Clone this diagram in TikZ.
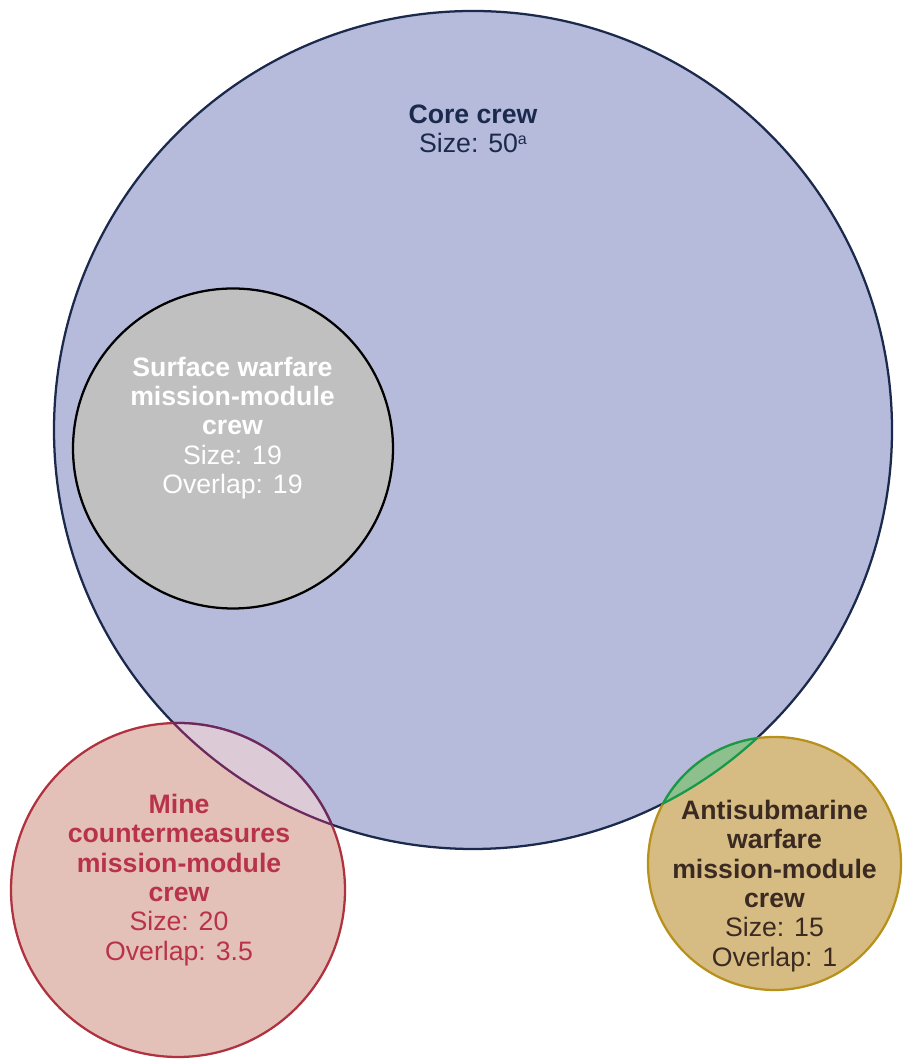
\documentclass[tikz,border=0pt]{standalone}
\usepackage[dvipsnames,svgnames]{xcolor}
\usepackage{tkz-euclide}
\usepackage{fontspec}
\setmainfont{Liberation Sans}
\definecolor{corefill}{HTML}{B6BBDB}
\definecolor{coreline}{HTML}{1B2A4C}
\definecolor{surffill}{HTML}{C0C0C0}
\definecolor{minefill}{HTML}{E3C1B8}
\definecolor{mineline}{HTML}{B0323F}
\definecolor{minetext}{HTML}{B8334A}
\definecolor{minelens}{HTML}{DCCAD7}
\definecolor{minelensline}{HTML}{6A2A5E}
\definecolor{asfill}{HTML}{D6BC82}
\definecolor{asline}{HTML}{B8911C}
\definecolor{astext}{HTML}{3B2A22}
\definecolor{aslens}{HTML}{8EC08E}
\definecolor{aslensline}{HTML}{17994A}

\begin{document}
\begin{tikzpicture}[x=0.75pt,y=0.75pt,
  crewtext/.style={align=center,font=\fontsize{20}{22}\selectfont}]
  \useasboundingbox (0,0) rectangle (904,1059);
  \tkzDefPoints{473/629/C,892/629/c,233/610.5/S,393/610.5/s,
    178/169/M,345/169/m,774.5/195.5/A,901/195.5/a}
  % the four crews
  \tkzFillCircle[color=corefill](C,c)
  \tkzDrawCircle[color=coreline,line width=1.7pt](C,c)
  \tkzFillCircle[color=surffill](S,s)
  \tkzDrawCircle[color=black,line width=1.7pt](S,s)
  \tkzFillCircle[color=minefill](M,m)
  \tkzDrawCircle[color=mineline,line width=1.7pt](M,m)
  \tkzFillCircle[color=asfill](A,a)
  \tkzDrawCircle[color=asline,line width=1.7pt](A,a)
  % overlaps with the core crew
  \begin{scope}
    \tkzClipCircle(C,c)
    \tkzFillCircle[color=minelens](M,m)
    \tkzDrawCircle[color=minelensline,line width=1.7pt](M,m)
    \tkzFillCircle[color=aslens](A,a)
    \tkzDrawCircle[color=aslensline,line width=1.7pt](A,a)
  \end{scope}
  \begin{scope}
    \tkzClipCircle(M,m)
    \tkzDrawCircle[color=minelensline,line width=1.7pt](C,c)
  \end{scope}
  \begin{scope}
    \tkzClipCircle(A,a)
    \tkzDrawCircle[color=aslensline,line width=1.7pt](C,c)
  \end{scope}
  % labels
  \node[crewtext,text=coreline] (core) at (473,930)
    {\textbf{Core crew}\\Size: 50\raisebox{0.3em}{\fontsize{12}{12}\selectfont a}};
  \node[crewtext,text=white] (surface) at (232.5,631)
    {\textbf{Surface warfare}\\\textbf{mission-module}\\\textbf{crew}\\Size: 19\\Overlap: 19};
  \node[crewtext,text=minetext] (mine) at (179,179)
    {\textbf{Mine}\\\textbf{countermeasures}\\\textbf{mission-module}\\\textbf{crew}\\Size: 20\\Overlap: 3.5};
  \node[crewtext,text=astext] (asw) at (774.5,173)
    {\textbf{Antisubmarine}\\\textbf{warfare}\\\textbf{mission-module}\\\textbf{crew}\\Size: 15\\Overlap: 1};
\end{tikzpicture}
\end{document}
